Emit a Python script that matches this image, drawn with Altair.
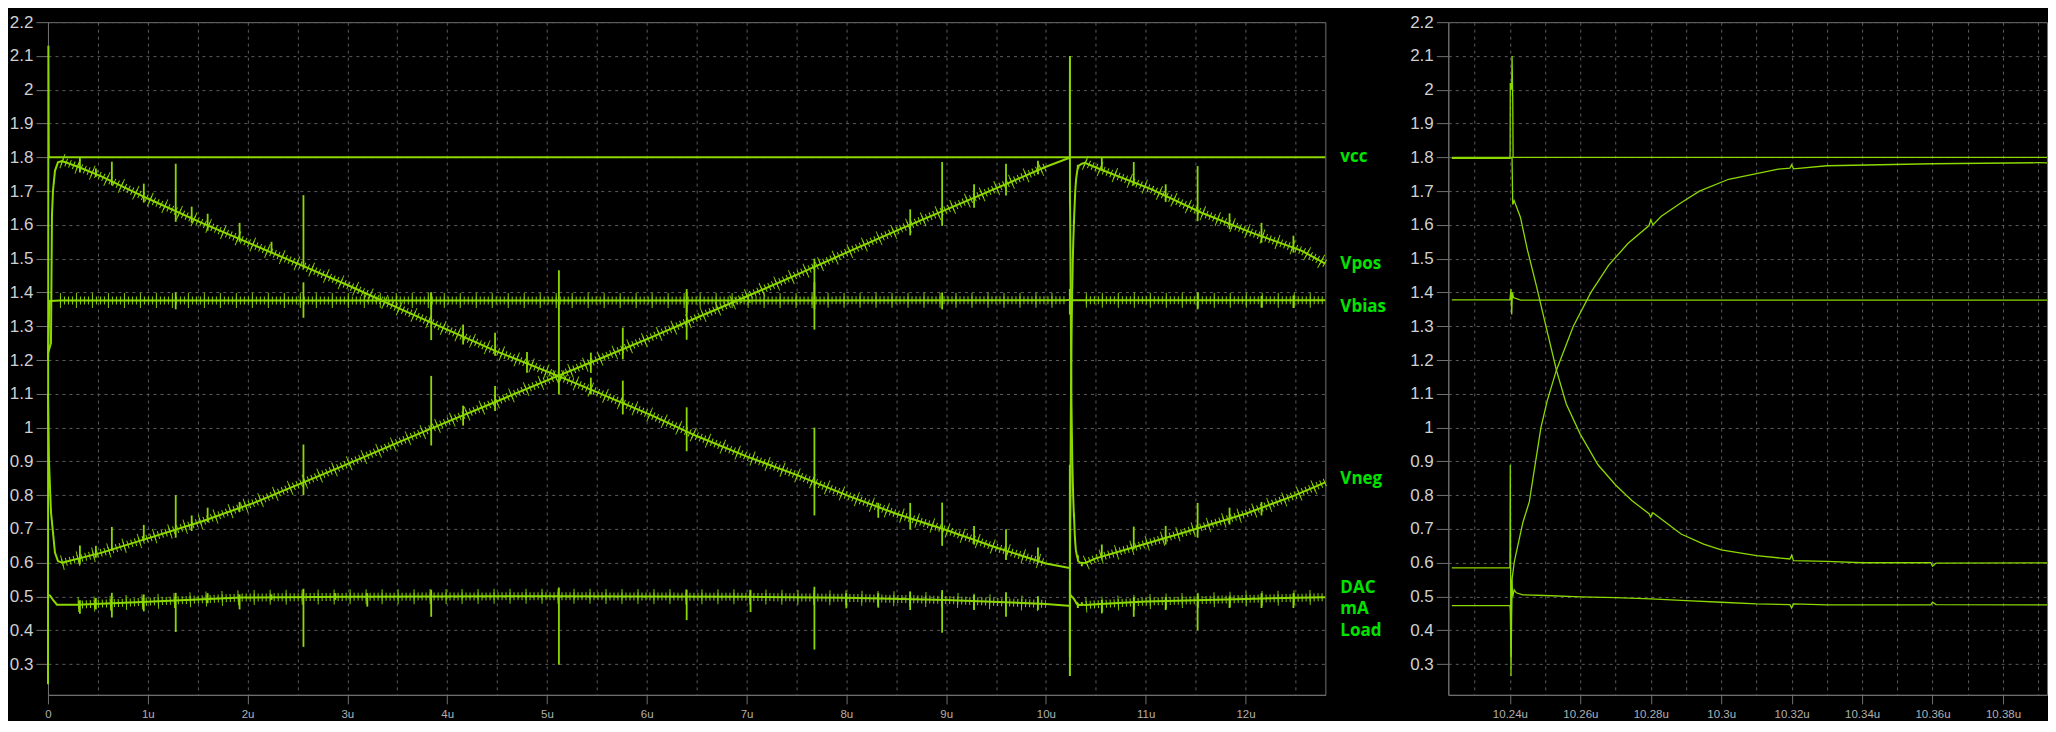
import altair as alt
import pandas as pd

TRACE = "#8cd800"
LABEL = "#00e400"
AXIS = "#707070"
GRID = "#5c5c5c"

# ---------------- trace data (time in u, value in V) ----------------
vcc_t = [0.0, 0.004, 0.008, 10.2235, 10.2400, 10.24005, 10.2401, 10.2405, 10.2406, 10.2408, 10.2409, 12.8]
vcc_v = [0.24, 2.13, 1.80, 1.80, 1.80, 1.81, 2.02, 2.00, 2.10, 1.97, 1.80, 1.80]

vpos_t = [0.0, 0.03, 0.04, 0.05, 0.07, 0.10, 0.14, 0.30, 0.54, 1.00, 1.54, 2.00, 2.56, 3.00,
          3.54, 4.00, 4.50, 5.11, 5.50, 6.05, 6.50, 7.00, 7.50, 8.00, 8.50, 9.00, 9.50, 10.00,
          10.2235, 10.2400, 10.2401, 10.2403, 10.2406, 10.2412, 10.2418, 10.2437, 10.2455,
          10.2488, 10.2506, 10.2532, 10.2580, 10.2630, 10.2680, 10.2735, 10.2795, 10.2800,
          10.2806, 10.2829, 10.2885, 10.2938, 10.3021, 10.3162, 10.3195, 10.3200, 10.3205,
          10.3300, 10.3600, 10.3900, 10.55, 11.06, 11.56, 12.06, 12.56, 12.8]
vpos_v = [1.22, 1.25, 1.63, 1.70, 1.76, 1.785, 1.789, 1.772, 1.743, 1.678, 1.606, 1.548, 1.478, 1.422,
          1.35, 1.29, 1.225, 1.153, 1.105, 1.036, 0.975, 0.915, 0.86, 0.80, 0.745, 0.697, 0.645, 0.598,
          0.585, 0.585, 0.89, 0.265, 0.55, 0.60, 0.63, 0.72, 0.78,
          1.00, 1.08, 1.17, 1.30, 1.40, 1.48, 1.545, 1.598, 1.615,
          1.600, 1.625, 1.665, 1.700, 1.735, 1.765, 1.768, 1.778, 1.766,
          1.775, 1.781, 1.784, 1.764, 1.705, 1.636, 1.577, 1.524, 1.485]

vneg_t = [0.0, 0.01, 0.03, 0.05, 0.07, 0.10, 0.14, 0.54, 1.00, 1.54, 2.07, 2.56, 3.00, 3.54,
          4.00, 4.50, 5.11, 5.50, 6.05, 6.50, 7.00, 7.50, 8.00, 8.55, 9.00, 9.50, 10.00,
          10.2235, 10.2400, 10.2406, 10.2408, 10.2412, 10.2430, 10.2449, 10.2475, 10.2500,
          10.2532, 10.2560, 10.2600, 10.2650, 10.2700, 10.2746, 10.2795, 10.2800, 10.2806,
          10.2886, 10.2950, 10.3000, 10.3100, 10.3195, 10.3200, 10.3205, 10.3300, 10.3400,
          10.3595, 10.3600, 10.3610, 10.40, 10.50, 11.00, 11.50, 12.00, 12.50, 12.8]
vneg_v = [1.10, 0.90, 0.75, 0.69, 0.63, 0.605, 0.60, 0.63, 0.672, 0.722, 0.778, 0.838, 0.892, 0.96,
          1.017, 1.078, 1.153, 1.20, 1.268, 1.325, 1.388, 1.452, 1.518, 1.589, 1.645, 1.708, 1.772,
          1.797, 1.797, 1.80, 1.66, 1.672, 1.622, 1.529, 1.42, 1.31,
          1.17, 1.07, 0.98, 0.89, 0.83, 0.784, 0.745, 0.735, 0.748,
          0.685, 0.655, 0.638, 0.621, 0.611, 0.622, 0.606, 0.604, 0.600,
          0.600, 0.590, 0.599, 0.600, 0.613, 0.656, 0.70, 0.745, 0.80, 0.838]

vbias_t = [0.0, 0.01, 0.02, 0.12, 5.00, 10.20, 10.2235, 10.2400, 10.2403, 10.2405, 10.2407,
           10.2410, 10.2430, 10.40, 12.8]
vbias_v = [1.20, 1.33, 1.375, 1.376, 1.376, 1.377, 1.378, 1.378, 1.41, 1.335, 1.40,
           1.385, 1.377, 1.377, 1.377]

dac_t = [0.0, 0.02, 0.05, 0.09, 0.30, 0.94, 1.94, 3.00, 5.00, 7.00, 8.00, 9.00, 10.00,
         10.2235, 10.2400, 10.2401, 10.2403, 10.2405, 10.2408, 10.2412, 10.2418, 10.2437,
         10.25, 10.26, 10.27, 10.28, 10.29, 10.30, 10.31, 10.3195, 10.3200, 10.3205, 10.33,
         10.3595, 10.3600, 10.3610, 10.40, 10.50, 11.00, 12.00, 12.8]
dac_v = [0.505, 0.503, 0.49, 0.476, 0.476, 0.484, 0.497, 0.499, 0.501, 0.499, 0.496, 0.490, 0.478,
         0.473, 0.473, 0.46, 0.32, 0.55, 0.50, 0.52, 0.511, 0.505,
         0.503, 0.499, 0.497, 0.493, 0.488, 0.483, 0.478, 0.476, 0.466, 0.478, 0.475,
         0.475, 0.483, 0.476, 0.475, 0.477, 0.485, 0.493, 0.498]

# switching glitches seen on the left panel, per trace: time, low, high
gl_vpos_t = [0.32, 0.48, 0.64, 0.96, 1.28, 1.44, 1.60, 1.92, 2.24, 2.56, 3.84, 4.16, 4.48, 4.80,
             5.12, 5.44, 5.76, 6.40, 7.68, 8.32, 8.64, 8.96, 9.28, 9.60, 9.92, 10.56, 10.88,
             11.20, 11.52, 11.84, 12.16, 12.48]
gl_vpos_lo = [1.755, 1.742, 1.717, 1.666, 1.609, 1.606, 1.583, 1.55, 1.52, 1.47, 1.259, 1.246,
              1.213, 1.162, 1.098, 1.098, 1.039, 0.93, 0.74, 0.733, 0.699, 0.65, 0.654, 0.608, 0.60,
              1.76, 1.717, 1.668, 1.611, 1.587, 1.547, 1.518]
gl_vpos_hi = [1.801, 1.767, 1.787, 1.722, 1.781, 1.654, 1.633, 1.606, 1.55, 1.688, 1.40, 1.305,
              1.281, 1.224, 1.466, 1.148, 1.139, 1.06, 1.00, 0.777, 0.777, 0.778, 0.709, 0.699,
              0.645, 1.799, 1.786, 1.72, 1.774, 1.634, 1.606, 1.568]

gl_vneg_t = [0.32, 0.48, 0.64, 0.96, 1.28, 1.44, 1.60, 1.92, 2.56, 3.84, 4.16, 4.48, 5.44, 5.76,
             6.40, 7.68, 8.64, 8.96, 9.28, 9.60, 9.92, 10.56, 10.88, 11.20, 11.52, 11.84, 12.16]
gl_vneg_lo = [0.595, 0.615, 0.635, 0.664, 0.674, 0.694, 0.72, 0.75, 0.80, 0.947, 1.006, 1.049,
              1.162, 1.202, 1.26, 1.29, 1.569, 1.597, 1.651, 1.687, 1.75, 0.612, 0.639, 0.654,
              0.674, 0.713, 0.74]
gl_vneg_hi = [0.651, 0.65, 0.706, 0.712, 0.80, 0.74, 0.763, 0.78, 0.95, 1.153, 1.065, 1.123,
              1.222, 1.296, 1.40, 1.50, 1.646, 1.786, 1.72, 1.781, 1.79, 0.654, 0.707, 0.709,
              0.777, 0.763, 0.78]

gl_dac_t = [0.32, 0.48, 0.64, 0.96, 1.28, 1.60, 1.92, 2.24, 2.56, 2.88, 3.20, 3.84, 5.12, 6.40,
            7.04, 7.68, 8.00, 8.32, 8.64, 8.96, 9.28, 9.60, 9.92, 10.56, 10.88, 11.20, 11.52,
            11.84, 12.16, 12.48]
gl_dac_lo = [0.449, 0.462, 0.438, 0.456, 0.395, 0.48, 0.462, 0.49, 0.351, 0.49, 0.47, 0.44, 0.298,
             0.43, 0.454, 0.343, 0.465, 0.467, 0.46, 0.393, 0.46, 0.44, 0.46, 0.45, 0.44, 0.46,
             0.40, 0.466, 0.466, 0.466]
gl_dac_hi = [0.489, 0.496, 0.511, 0.506, 0.511, 0.51, 0.506, 0.506, 0.523, 0.51, 0.51, 0.52, 0.527,
             0.52, 0.519, 0.529, 0.51, 0.51, 0.515, 0.519, 0.505, 0.513, 0.50, 0.49, 0.498, 0.498,
             0.509, 0.50, 0.51, 0.51]

gl_vbias_t = [1.28, 2.56, 3.84, 6.40, 7.68, 8.96, 11.52, 12.16, 12.48]
gl_vbias_lo = [1.35, 1.325, 1.35, 1.34, 1.35, 1.35, 1.35, 1.355, 1.354]
gl_vbias_hi = [1.40, 1.43, 1.40, 1.41, 1.43, 1.40, 1.40, 1.39, 1.391]

# labels at the right of the left panel
lab_text = ["vcc", "Vpos", "Vbias", "Vneg", "DAC", "mA", "Load"]
lab_v = [1.80, 1.484, 1.356, 0.848, 0.525, 0.462, 0.398]

# axis ticks
y_ticks = [0.3, 0.4, 0.5, 0.6, 0.7, 0.8, 0.9, 1.0, 1.1, 1.2, 1.3, 1.4, 1.5, 1.6, 1.7, 1.8, 1.9, 2.0, 2.1, 2.2]
xl_ticks = [0, 0.5, 1, 1.5, 2, 2.5, 3, 3.5, 4, 4.5, 5, 5.5, 6, 6.5, 7, 7.5, 8, 8.5, 9, 9.5,
            10, 10.5, 11, 11.5, 12, 12.5]
xr_ticks = [10.23, 10.24, 10.25, 10.26, 10.27, 10.28, 10.29, 10.30, 10.31, 10.32, 10.33, 10.34,
            10.35, 10.36, 10.37, 10.38, 10.39]

# ---------------- tables ----------------
def tab(name, ts, vs):
    return pd.DataFrame({"t": ts, "v": vs, "s": name})

def gtab(name, ts, lo, hi):
    return pd.DataFrame({"t": ts, "lo": lo, "hi": hi, "s": name})

traces = pd.concat([tab("vcc", vcc_t, vcc_v), tab("Vpos", vpos_t, vpos_v),
                    tab("Vneg", vneg_t, vneg_v), tab("Vbias", vbias_t, vbias_v),
                    tab("DAC", dac_t, dac_v)], ignore_index=True)
glitches = pd.concat([gtab("Vpos", gl_vpos_t, gl_vpos_lo, gl_vpos_hi),
                      gtab("Vneg", gl_vneg_t, gl_vneg_lo, gl_vneg_hi),
                      gtab("DAC", gl_dac_t, gl_dac_lo, gl_dac_hi),
                      gtab("Vbias", gl_vbias_t, gl_vbias_lo, gl_vbias_hi)], ignore_index=True)
labels = pd.DataFrame({"text": lab_text, "v": lab_v})

YDOM = [0.209, 2.2]
LW, RW, H = 1278, 599, 673

def yaxis():
    return alt.Axis(values=y_ticks, format="~g", title=None, tickSize=12, labelPadding=3,
                    labelFontSize=17, labelFont="Liberation Sans", labelColor="#d0d0d0",
                    minExtent=38, maxExtent=38, grid=True, labelOverlap=False)

ysc = alt.Scale(domain=YDOM, nice=False, zero=False)
YL = alt.Y("v:Q", scale=ysc, axis=yaxis())

xl_axis = alt.Axis(values=xl_ticks, title=None, grid=True, tickSize=9, labelPadding=5,
                   labelFontSize=11.5, labelFont="Liberation Sans", labelColor="#b0b0b0",
                   labelFlush=False, labelOverlap=False,
                   labelExpr="datum.value % 1 ? '' : (datum.value == 0 ? '0' : datum.value + 'u')",
                   tickOpacity={"condition": {"test": "datum.value % 1 != 0", "value": 0}, "value": 1})
XL = alt.X("t:Q", scale=alt.Scale(domain=[0, 12.8], nice=False, zero=False), axis=xl_axis)

base_l = alt.Chart(traces)
line_l = base_l.mark_line(color=TRACE, strokeWidth=2).encode(
    x=XL, y=YL, detail="s:N", order="t:Q")

tex = base_l.transform_filter("datum.s != 'vcc'").transform_filter(
    "(datum.t >= 0.12 && datum.t <= 10.2) || datum.t >= 10.37").transform_calculate(
    seg="datum.s + (datum.t < 10.24 ? '0' : '1')")
tex1 = tex.mark_line(color=TRACE, strokeWidth=8, strokeDash=[1, 3]).encode(
    x=XL, y=YL, detail="seg:N", order="t:Q")
tex2 = tex.mark_line(color=TRACE, strokeWidth=15, strokeDash=[1, 15], opacity=0.9).encode(
    x=XL, y=YL, detail="seg:N", order="t:Q")

gl = alt.Chart(glitches).mark_rule(color=TRACE, strokeWidth=1.8).encode(
    x=XL, y=alt.Y("lo:Q", scale=ysc, axis=yaxis()), y2="hi:Q")

txt = alt.Chart(labels).mark_text(align="left", baseline="middle", dx=15, font="Open Sans",
                                  fontWeight="bold", fontSize=17, color=LABEL).encode(
    x=alt.value(LW), y=YL, text="text:N")

left = alt.layer(line_l, tex1, tex2, gl, txt).properties(width=LW, height=H)

xr_axis = alt.Axis(values=xr_ticks, title=None, grid=True, tickSize=9, labelPadding=5,
                   labelFontSize=11.5, labelFont="Liberation Sans", labelColor="#b0b0b0",
                   labelFlush=False, labelOverlap=False,
                   labelExpr="round(datum.value * 100) % 2 == 1 ? '' : format(datum.value, '~g') + 'u'",
                   tickOpacity={"condition": {"test": "round(datum.value * 100) % 2 == 1", "value": 0}, "value": 1})
XR = alt.X("t:Q", scale=alt.Scale(domain=[10.2225, 10.3925], nice=False, zero=False), axis=xr_axis)

right = alt.Chart(traces).transform_filter("datum.t >= 10.2235").mark_line(
    color=TRACE, strokeWidth=1.3, clip=True).encode(
    x=XR, y=YL, detail="s:N", order="t:Q"
).properties(width=RW, height=H)

chart = alt.hconcat(left, right, spacing=21).resolve_scale(x="independent").properties(
    usermeta={"embedOptions": {"defaultStyle": "html, body { background: #000000; }"}}
).configure(
    background="#000000",
    padding={"left": 0, "top": 4, "right": 0, "bottom": 0},
).configure_view(stroke=AXIS, strokeWidth=1).configure_axis(
    domainColor=AXIS, tickColor=AXIS, gridColor=GRID, gridDash=[3, 4], gridWidth=1,
    domainWidth=1, tickWidth=1, labelOverlap=False)

chart.save("out.html", embed_options={"renderer": "svg", "actions": False})
